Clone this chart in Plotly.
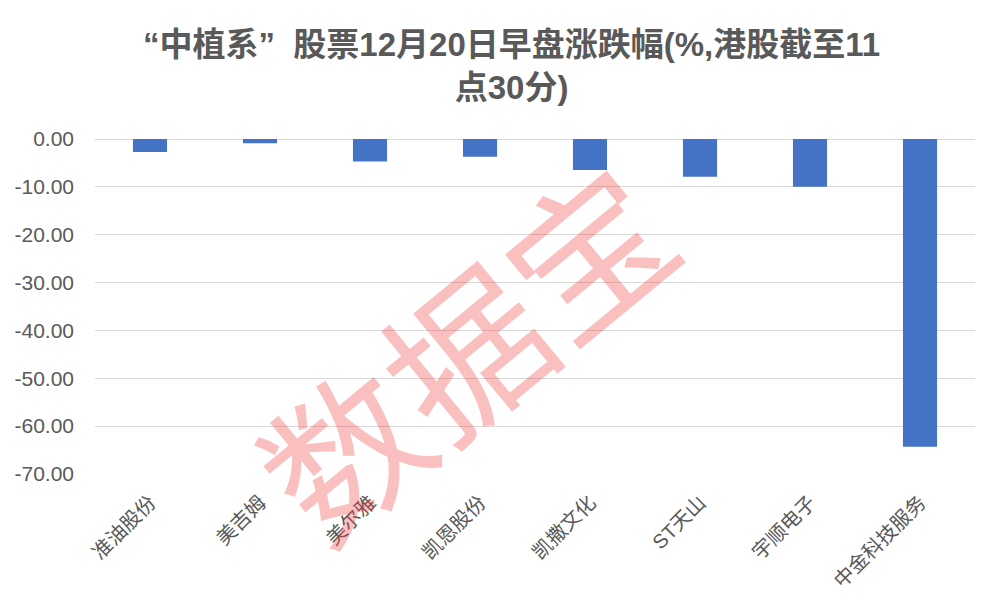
import plotly.graph_objects as go

categories = ["准油股份", "美吉姆", "美尔雅", "凯恩股份", "凯撒文化", "ST天山", "宇顺电子", "中金科技服务"]
values = [-2.7, -0.9, -4.7, -3.7, -6.5, -7.9, -10.0, -64.3]
tick_vals = [0, -10, -20, -30, -40, -50, -60, -70]
tick_text = ["0.00", "-10.00", "-20.00", "-30.00", "-40.00", "-50.00", "-60.00", "-70.00"]
title_text = "“中植系”  股票12月20日早盘涨跌幅(%,港股截至11<br>点30分)"
watermark = "数据宝"

font_fam = "Liberation Sans, Noto Sans CJK SC, sans-serif"
grey = "#595959"

fig = go.Figure(go.Bar(x=categories, y=values, marker_color="#4472C4",
                       marker_line_width=0))
fig.update_layout(
    width=1000, height=614,
    paper_bgcolor="white", plot_bgcolor="white",
    margin=dict(l=95, r=25, t=139, b=140, autoexpand=False),
    bargap=0.69,
    showlegend=False,
    font=dict(family=font_fam, color=grey),
)
fig.update_yaxes(range=[-70, 0], tickvals=tick_vals, ticktext=tick_text,
                 showgrid=True, gridcolor="#D9D9D9", gridwidth=1,
                 zeroline=True, zerolinecolor="#D9D9D9", zerolinewidth=1,
                 showline=False, ticks="", ticklen=0, automargin=False,
                 ticklabelstandoff=20,
                 tickfont=dict(size=21, color=grey, family=font_fam))
fig.update_xaxes(tickangle=-45, showline=False, showgrid=False, ticks="",
                 automargin=False, ticklabelstandoff=12,
                 tickfont=dict(size=20, color=grey, family=font_fam))
# title as annotation
fig.add_annotation(text="<b>" + title_text + "</b>", xref="paper", yref="paper",
                   x=(511 - 95) / 880, y=(474 - 66.5) / 335,
                   xanchor="center", yanchor="middle", showarrow=False,
                   align="center",
                   font=dict(size=33, color=grey, family=font_fam))
fig.add_annotation(text=watermark, xref="paper", yref="paper", x=0.417, y=0.379,
                   showarrow=False, textangle=-39.5,
                   font=dict(size=158, color="rgba(240,60,60,0.32)",
                             family="Noto Sans CJK SC"))
fig.write_html("out.html", config={"displayModeBar": False},
               post_script="document.body.style.margin='0';")
